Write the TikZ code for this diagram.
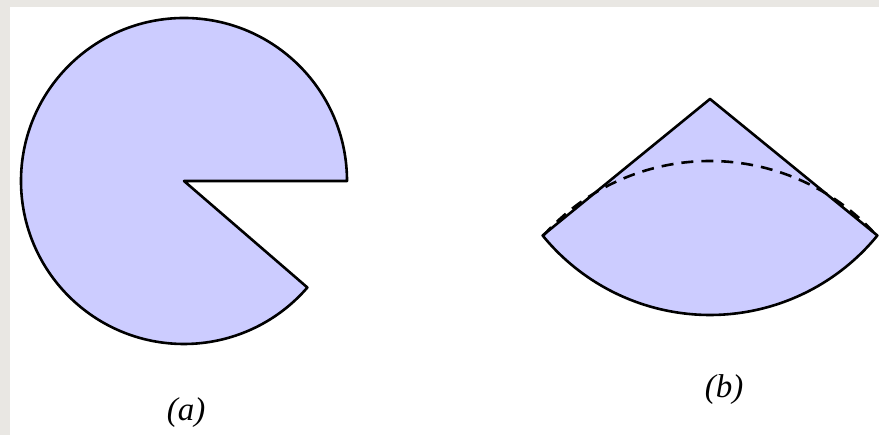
\documentclass[tikz,border=0pt]{standalone}
\usepackage{fontspec}
\setmainfont{Liberation Serif}
\usetikzlibrary{positioning}
\definecolor{sheetfill}{HTML}{CCCCFF}
\definecolor{paper}{HTML}{E9E7E3}

\begin{document}
\begin{tikzpicture}[
    x=1pt, y=1pt,
    sheet/.style={draw, fill=sheetfill, line width=2.6pt, line join=round},
    rim/.style={line width=2.6pt, dash pattern=on 12pt off 8pt},
    caption/.style={font=\fontsize{33}{36}\selectfont\itshape, inner sep=0pt}
]
% frame
\fill[paper] (0,0) rectangle (879,435);
\fill[white] (10,0) rectangle (879,428);
\useasboundingbox (0,0) rectangle (879,435);
% (a) disc with a cut
\coordinate (ca) at (184,254);
\draw[sheet] (ca) -- ++(0:163) arc[start angle=0, end angle=319.2, radius=163] -- cycle;
% (b) sector
\coordinate (cb) at (710,336);
\draw[sheet] (cb) -- ++(219.2:216) arc[start angle=219.2, end angle=320.8, radius=216] -- cycle;
\coordinate (rc) at (710,50.6);
\draw[rim] (rc) ++(138.4:223.4) arc[start angle=138.4, end angle=41.6, radius=223.4];
% labels
\node[caption] (la) at (186,22) {(a)};
\node[caption] (lb) at (724,45) {(b)};
\end{tikzpicture}
\end{document}
